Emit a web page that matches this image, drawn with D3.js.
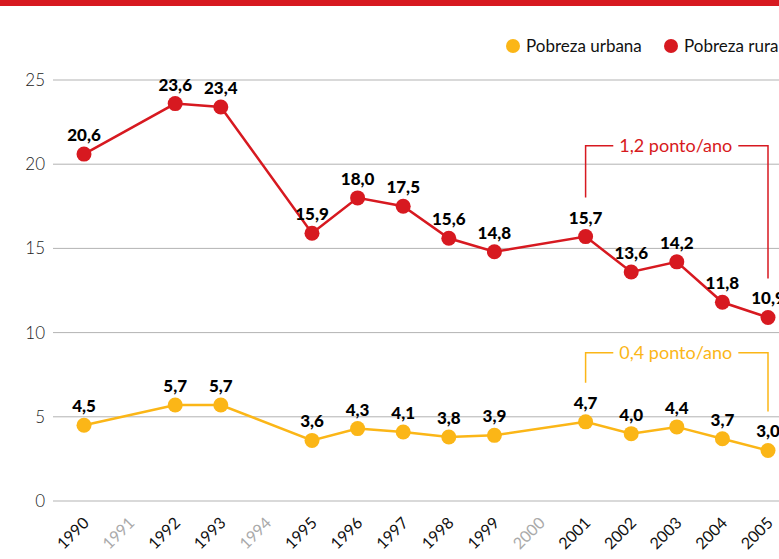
<!DOCTYPE html>
<html>
<head>
<meta charset="utf-8">
<script src="https://cdn.jsdelivr.net/npm/d3@7"></script>
<style>
  body { margin: 0; background: #fff; overflow: hidden; }
  svg { display: block; font-family: Lato, "Open Sans", sans-serif; }
</style>
</head>
<body>
<script>
(function() {
    var w = 779,
        h = 559;

    // data
    var years = d3.range(1990, 2006);
    var missingYears = [1991, 1994, 2000];
    var dataYears = [1990, 1992, 1993, 1995, 1996, 1997, 1998, 1999, 2001, 2002, 2003, 2004, 2005];
    var rural = [20.6, 23.6, 23.4, 15.9, 18.0, 17.5, 15.6, 14.8, 15.7, 13.6, 14.2, 11.8, 10.9];
    var urbana = [4.5, 5.7, 5.7, 3.6, 4.3, 4.1, 3.8, 3.9, 4.7, 4.0, 4.4, 3.7, 3.0];
    var yTicks = [0, 5, 10, 15, 20, 25];
    var seriesNames = ['Pobreza urbana', 'Pobreza rural'];
    var annotations = [
        { text: '1,2 ponto/ano', from: 2001, to: 2005, top: 21.1, series: 'rural' },
        { text: '0,4 ponto/ano', from: 2001, to: 2005, top: 8.8, series: 'urbana' }
    ];

    var red = '#d71920',
        yellow = '#fbb617';

    var svg = d3.select('body').append('svg')
        .attr('width', w)
        .attr('height', h);

    // top red band
    svg.append('rect')
        .attr('x', 0).attr('y', 0)
        .attr('width', w).attr('height', 6)
        .attr('fill', red);

    var x = d3.scalePoint()
        .domain(years)
        .range([84, 768]);
    var y = d3.scaleLinear()
        .domain([0, 25])
        .range([501, 80]);

    // grid + y labels
    var grid = svg.append('g');
    grid.selectAll('line')
        .data(yTicks)
        .enter().append('line')
        .attr('x1', 53).attr('x2', w)
        .attr('y1', function(d) { return y(d); })
        .attr('y2', function(d) { return y(d); })
        .attr('stroke', '#b3b3b3')
        .attr('stroke-width', 1);
    grid.selectAll('text')
        .data(yTicks)
        .enter().append('text')
        .attr('x', 45)
        .attr('y', function(d) { return y(d) + 6; })
        .attr('text-anchor', 'end')
        .attr('font-size', 17)
        .attr('font-weight', 300)
        .attr('fill', '#222')
        .text(function(d) { return d; });

    // x labels, rotated
    svg.append('g').selectAll('text')
        .data(years)
        .enter().append('text')
        .attr('transform', function(d) {
            return 'translate(' + (x(d) + 6) + ',524) rotate(-45)';
        })
        .attr('text-anchor', 'end')
        .attr('font-size', 16)
        .attr('font-weight', 400)
        .attr('fill', function(d) { return missingYears.indexOf(d) >= 0 ? '#aaa' : '#111'; })
        .text(function(d) { return d; });

    var fmt = function(v) { return v.toFixed(1).replace('.', ','); };

    function drawSeries(values, color) {
        var pts = dataYears.map(function(yr, i) { return [yr, values[i]]; });
        var line = d3.line()
            .x(function(d) { return x(d[0]); })
            .y(function(d) { return y(d[1]); });
        var g = svg.append('g');
        g.append('path')
            .datum(pts)
            .attr('d', line)
            .attr('fill', 'none')
            .attr('stroke', color)
            .attr('stroke-width', 2.5);
        g.selectAll('circle')
            .data(pts)
            .enter().append('circle')
            .attr('cx', function(d) { return x(d[0]); })
            .attr('cy', function(d) { return y(d[1]); })
            .attr('r', 7.5)
            .attr('fill', color);
        g.selectAll('text')
            .data(pts)
            .enter().append('text')
            .attr('x', function(d) { return x(d[0]); })
            .attr('y', function(d) { return y(d[1]) - 13; })
            .attr('text-anchor', 'middle')
            .attr('font-size', 17)
            .attr('font-weight', 900)
            .attr('fill', '#000')
            .text(function(d) { return fmt(d[1]); });
    }

    // annotation brackets
    annotations.forEach(function(a) {
        var vals = a.series === 'rural' ? rural : urbana;
        var color = a.series === 'rural' ? red : yellow;
        var x1 = x(a.from), x2 = x(a.to);
        var yTop = y(a.top);
        var y1 = y(vals[dataYears.indexOf(a.from)]) - 39;
        var y2 = y(vals[dataYears.indexOf(a.to)]) - 39;
        var g = svg.append('g');
        var t = g.append('text')
            .attr('x', (x1 + x2) / 2 - 1)
            .attr('y', yTop + 6)
            .attr('text-anchor', 'middle')
            .attr('font-size', 18)
            .attr('fill', color)
            .text(a.text);
        var bb = t.node().getBBox();
        g.append('path')
            .attr('d', 'M' + x1 + ',' + y1 + 'V' + yTop + 'H' + (bb.x - 6))
            .attr('fill', 'none').attr('stroke', color).attr('stroke-width', 1.5);
        g.append('path')
            .attr('d', 'M' + (bb.x + bb.width + 6) + ',' + yTop + 'H' + x2 + 'V' + y2)
            .attr('fill', 'none').attr('stroke', color).attr('stroke-width', 1.5);
    });

    drawSeries(rural, red);
    drawSeries(urbana, yellow);

    // legend
    var leg = svg.append('g');
    var legX = [513, 671];
    var legColors = [yellow, red];
    seriesNames.forEach(function(name, i) {
        leg.append('circle')
            .attr('cx', legX[i]).attr('cy', 46).attr('r', 7)
            .attr('fill', legColors[i]);
        leg.append('text')
            .attr('x', legX[i] + 13).attr('y', 52)
            .attr('font-size', 17)
            .attr('fill', '#111')
            .text(name);
    });
})();
</script>
</body>
</html>
